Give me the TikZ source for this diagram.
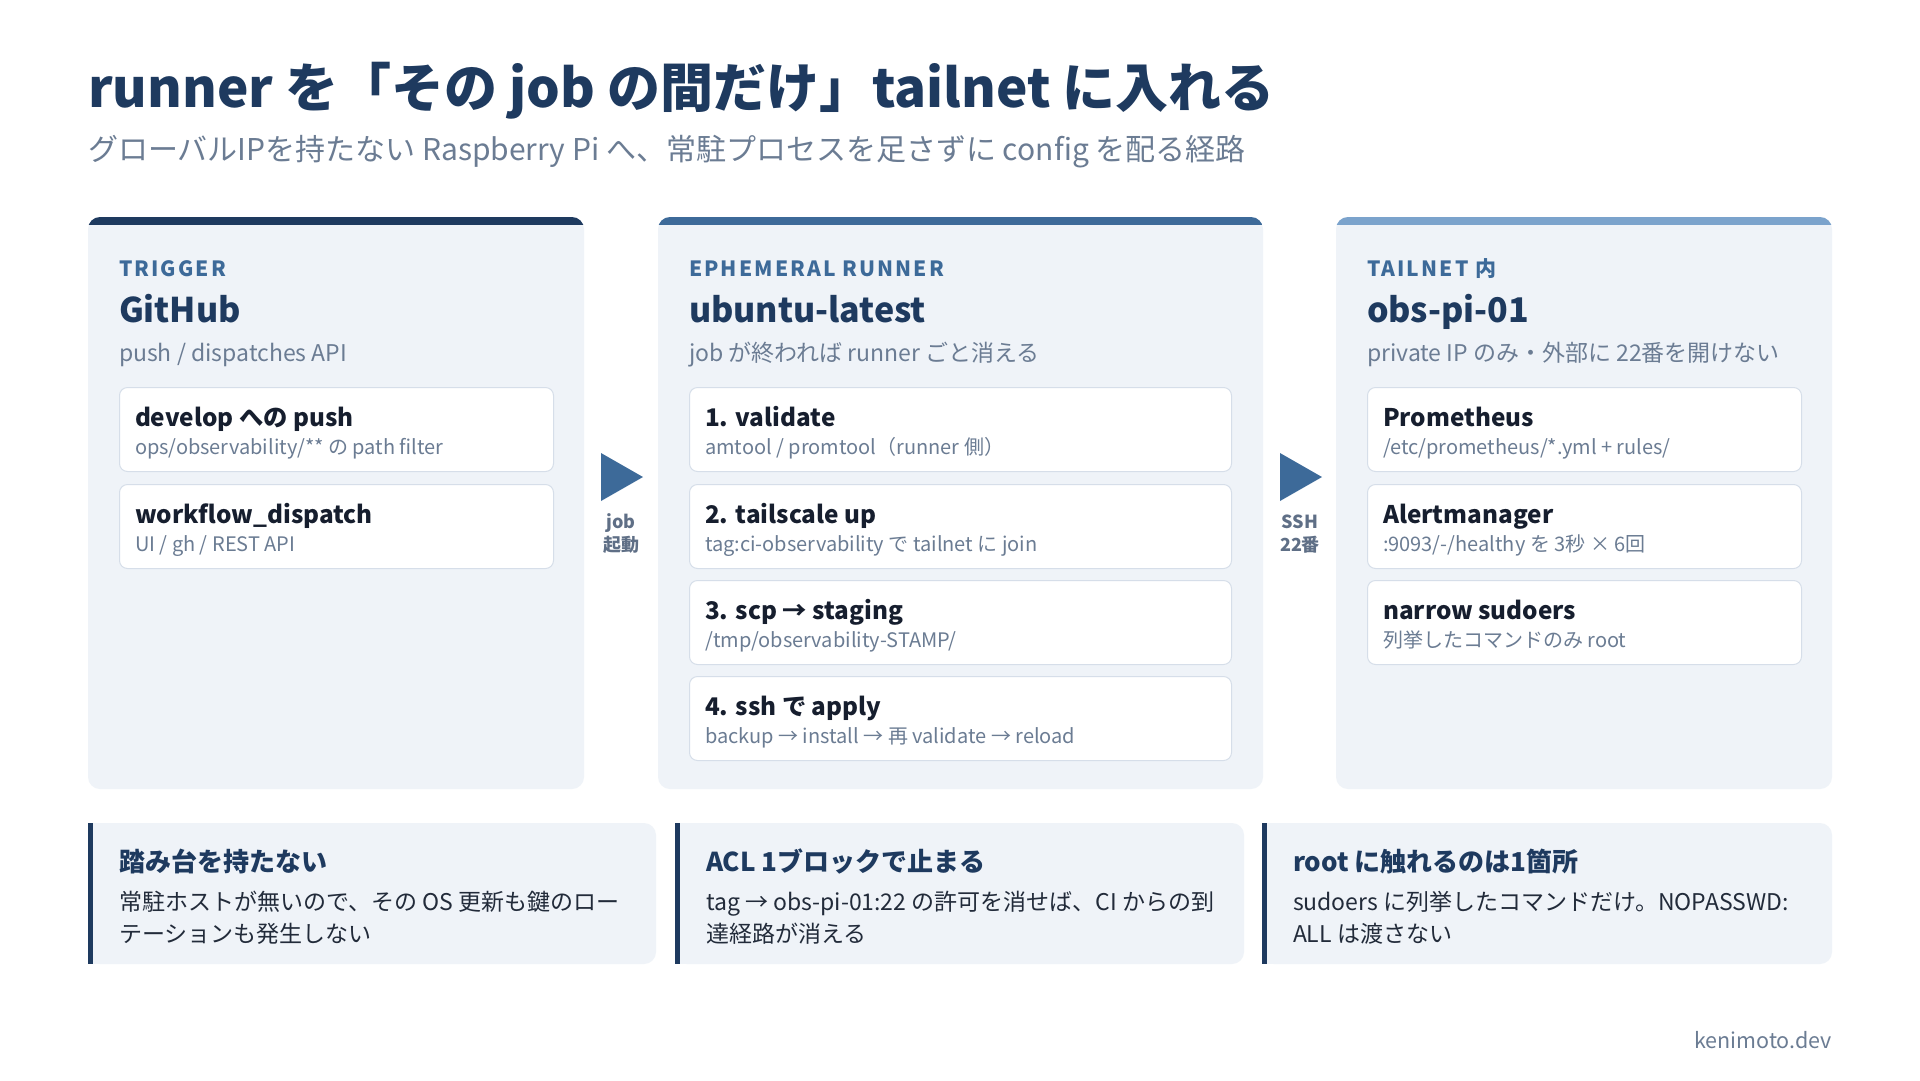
\documentclass[tikz,border=0pt]{standalone}
\usepackage{fontspec}
\setmainfont{Noto Sans CJK JP}
\definecolor{navy}{HTML}{1E3A5F}
\definecolor{accent}{HTML}{3D6A99}
\definecolor{lightbar}{HTML}{7BA3CC}
\definecolor{muted}{HTML}{6B7C93}
\definecolor{cardbg}{HTML}{EFF3F8}
\definecolor{iborder}{HTML}{D6DEE9}
\definecolor{ink}{HTML}{161E2E}
\definecolor{body}{HTML}{222B3A}
\definecolor{arrlab}{HTML}{5F6F86}
\newcommand\fs[1]{\fontsize{#1}{#1}\selectfont}
\tikzset{
  txt/.style={inner sep=0pt, outer sep=0pt, anchor=base west},
  ibox/.style={draw=iborder, line width=1pt, fill=white, rounded corners=8pt, anchor=north west, minimum height=84pt, inner sep=0pt},
  ititle/.style={txt, font=\fs{24.3}\bfseries, text=ink},
  isub/.style={txt, font=\fs{20}, text=muted},
  clabel/.style={txt, font=\fs{21}\bfseries\addfontfeature{LetterSpace=10}, text=accent},
  chead/.style={txt, font=\fs{34}\bfseries, text=navy},
  csub/.style={txt, font=\fs{23}, text=muted},
  bhead/.style={txt, font=\fs{26}\bfseries, text=navy},
  bbody/.style={txt, font=\fs{23}, text=body},
  alab/.style={inner sep=0pt, anchor=base, font=\fs{18}\bfseries, text=arrlab, align=center},
  tri/.style={fill=accent},
}
\newcommand\innerbox[6]{% name, x, y, width, title, sub
  \node[ibox, minimum width=#4pt] (#1) at (#2,#3) {};
  \node[ititle, xshift=16pt, yshift=-39pt] (#1t) at (#1.north west) {#5};
  \node[isub, xshift=16pt, yshift=-67pt] (#1s) at (#1.north west) {#6};
}
\newcommand\card[4]{% x1, x2, barcolor, name
  \fill[cardbg, rounded corners=12pt] (#1,217) rectangle (#2,789);
  \begin{scope}
    \clip[rounded corners=12pt] (#1,217) rectangle (#2,789);
    \fill[#3] (#1,215) rectangle (#2,225);
  \end{scope}
  \coordinate (#4) at (#1,217);
}
\newcommand\note[3]{% x1, x2, name
  \fill[cardbg, rounded corners=12pt] (#1,823) rectangle (#2,964);
  \fill[cardbg] (#1,823) rectangle ({#1+20},964);
  \fill[navy] (#1,823) rectangle ({#1+5},964);
  \coordinate (#3) at (#1,823);
}
\begin{document}
\begin{tikzpicture}[x=1pt,y=-1pt]
\useasboundingbox (0,0) rectangle (1920,1080);
\fill[white] (0,0) rectangle (1920,1080);

% title
\node[txt, font=\fs{53}\bfseries, text=navy] (title) at (88,107) {runner を「その job の間だけ」tailnet に入れる};
\node[txt, font=\fs{30}, text=muted] (subtitle) at (88,160) {グローバルIPを持たない Raspberry Pi へ、常駐プロセスを足さずに config を配る経路};

% cards
\card{88}{584}{navy}{card1}
\card{658}{1263}{accent}{card2}
\card{1336}{1832}{lightbar}{card3}

% card 1
\node[clabel] (l1) at (119,276) {TRIGGER};
\node[chead] (h1) at (119,322) {GitHub};
\node[csub] (s1) at (119,361) {push / dispatches API};
\innerbox{a1}{119}{387}{434}{develop への push}{ops/observability/** の path filter}
\innerbox{a2}{119}{484}{434}{workflow\_dispatch}{UI / gh / REST API}

% card 2
\node[clabel] (l2) at (689,276) {EPHEMERAL RUNNER};
\node[chead] (h2) at (689,322) {ubuntu-latest};
\node[csub] (s2) at (689,361) {job が終われば runner ごと消える};
\innerbox{b1}{689}{387}{542}{1. validate}{amtool / promtool（runner 側）}
\innerbox{b2}{689}{484}{542}{2. tailscale up}{tag:ci-observability で tailnet に join}
\innerbox{b3}{689}{580}{542}{3. scp → staging}{/tmp/observability-STAMP/}
\innerbox{b4}{689}{676}{542}{4. ssh で apply}{backup → install → 再 validate → reload}

% card 3
\node[clabel] (l3) at (1367,276) {TAILNET 内};
\node[chead] (h3) at (1367,322) {obs-pi-01};
\node[csub] (s3) at (1367,361) {private IP のみ・外部に 22番を開けない};
\innerbox{c1}{1367}{387}{434}{Prometheus}{/etc/prometheus/*.yml + rules/}
\innerbox{c2}{1367}{484}{434}{Alertmanager}{:9093/-/healthy を 3秒 × 6回}
\innerbox{c3}{1367}{580}{434}{narrow sudoers}{列挙したコマンドのみ root}

% arrows
\fill[tri] (601,453) -- (643,477) -- (601,501) -- cycle;
\node[alab] (j1) at (621,528) {job};
\node[alab] (j2) at (621,551) {起動};
\fill[tri] (1280,453) -- (1322,477) -- (1280,501) -- cycle;
\node[alab] (k1) at (1300,528) {SSH};
\node[alab] (k2) at (1300,551) {22番};

% notes
\note{88}{656}{n1}
\note{675}{1244}{n2}
\note{1262}{1832}{n3}
\node[bhead] (n1h) at (119,871) {踏み台を持たない};
\node[bbody] (n1a) at (119,910) {常駐ホストが無いので、その OS 更新も鍵のロー};
\node[bbody] (n1b) at (119,942) {テーションも発生しない};
\node[bhead] (n2h) at (706,871) {ACL 1ブロックで止まる};
\node[bbody] (n2a) at (706,910) {tag → obs-pi-01:22 の許可を消せば、CI からの到};
\node[bbody] (n2b) at (706,942) {達経路が消える};
\node[bhead] (n3h) at (1293,871) {root に触れるのは1箇所};
\node[bbody] (n3a) at (1293,910) {sudoers に列挙したコマンドだけ。NOPASSWD:};
\node[bbody] (n3b) at (1293,942) {ALL は渡さない};

% footer
\node[inner sep=0pt, anchor=base east, font=\fs{21.5}, text=muted] (foot) at (1832,1048) {kenimoto.dev};
\end{tikzpicture}
\end{document}
